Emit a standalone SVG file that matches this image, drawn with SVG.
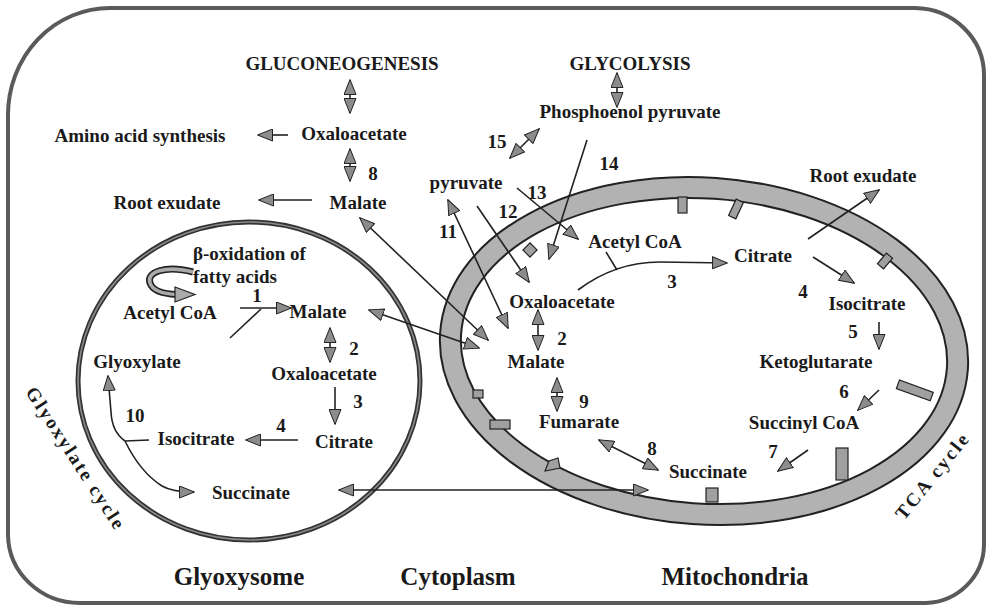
<svg xmlns="http://www.w3.org/2000/svg" width="986" height="608" viewBox="0 0 986 608">
<style>
.t{font-family:"Liberation Serif","Times New Roman",serif;font-weight:bold;font-size:19px;fill:#1a1a1a;text-anchor:middle}
.s{text-anchor:start}
.big{font-size:25px}
.c{stroke:#222;stroke-width:1.6;fill:none}
.a{marker-end:url(#ah)}
.d{marker-start:url(#ah);marker-end:url(#ah)}
.tab{fill:#a0a0a0;stroke:#222;stroke-width:1.2}
</style>
<defs>
<marker id="ah" viewBox="0 0 16 13" refX="15" refY="6.5" markerWidth="16" markerHeight="13" markerUnits="userSpaceOnUse" orient="auto-start-reverse">
<path d="M0.5,0.5 L15.5,6.5 L0.5,12.5 z" fill="#8c8c8c" stroke="#222" stroke-width="1"/>
</marker>
</defs>
<rect width="986" height="608" fill="#ffffff"/>
<g id="frame">
<path d="M8,115 A102,107 0 0 1 110,8 L915,8 A70,67 0 0 1 984,75 L984,545 A60,59 0 0 1 926,603 L80,603 A72,69 0 0 1 8,535 Z" fill="none" stroke="#5a5a5a" stroke-width="4"/>
</g>
<g id="glyoxysome">
<ellipse cx="249" cy="381" rx="171" ry="159" fill="none" stroke="#333" stroke-width="5"/>
<ellipse cx="249" cy="381" rx="171" ry="159" fill="none" stroke="#8a8a8a" stroke-width="1.6"/>
</g>
<g id="mitochondria">
<g transform="rotate(4 704 351)">
<ellipse cx="704" cy="351" rx="254" ry="163" fill="none" stroke="#222" stroke-width="23"/>
<ellipse cx="704" cy="351" rx="254" ry="163" fill="none" stroke="#b2b2b2" stroke-width="19"/>
</g>
<rect class="tab" x="678" y="197" width="9" height="16"/>
<rect class="tab" x="732" y="200" width="8" height="18" transform="rotate(25 736 209)"/>
<rect class="tab" x="881" y="254" width="8" height="14" transform="rotate(40 885 261)"/>
<rect class="tab" x="897" y="386" width="36" height="9" transform="rotate(20 915 390)"/>
<rect class="tab" x="836" y="448" width="12" height="32"/>
<rect class="tab" x="706" y="488" width="12" height="14"/>
<polygon class="tab" points="545,471 549,461 558,458 560,468"/>
<rect class="tab" x="490" y="420" width="20" height="9"/>
<rect class="tab" x="473" y="390" width="10" height="8"/>
<rect class="tab" x="525" y="245" width="10" height="10" transform="rotate(45 530 250)"/>
</g>
<g id="connectors">
<line class="c d" x1="350" y1="80" x2="350" y2="113"/>
<line class="c d" x1="350" y1="149" x2="350" y2="181"/>
<line class="c a" x1="288" y1="135" x2="258" y2="135"/>
<line class="c a" x1="312" y1="200" x2="259" y2="200"/>
<line class="c d" x1="617" y1="73" x2="617" y2="107"/>
<line class="c d" x1="510" y1="158" x2="539" y2="129"/>
<line class="c a" x1="587" y1="140" x2="549" y2="259"/>
<line class="c a" x1="517" y1="188" x2="578" y2="239"/>
<line class="c a" x1="477" y1="206" x2="529" y2="282"/>
<line class="c d" x1="448" y1="200" x2="508" y2="328"/>
<line class="c d" x1="360" y1="218" x2="488" y2="340"/>
<line class="c d" x1="369" y1="310" x2="479" y2="348"/>
<path class="c a" d="M578,290 Q615,262 660,262 L727,263"/>
<line class="c" x1="606" y1="252" x2="617" y2="270"/>
<line class="c a" x1="808" y1="239" x2="879" y2="190"/>
<line class="c a" x1="813" y1="257" x2="854" y2="283"/>
<line class="c a" x1="879" y1="322" x2="879" y2="349"/>
<line class="c a" x1="879" y1="390" x2="858" y2="410"/>
<line class="c a" x1="808" y1="450" x2="778" y2="471"/>
<line class="c d" x1="599" y1="440" x2="658" y2="470"/>
<line class="c d" x1="557" y1="378" x2="557" y2="411"/>
<line class="c d" x1="538" y1="310" x2="538" y2="350"/>
<line class="c a" x1="240" y1="308" x2="291" y2="308"/>
<line class="c" x1="230" y1="338" x2="261" y2="309"/>
<line class="c d" x1="330" y1="328" x2="330" y2="362"/>
<line class="c a" x1="335" y1="387" x2="335" y2="424"/>
<line class="c a" x1="298" y1="440" x2="246" y2="440"/>
<path class="c" d="M149,440 L125,441"/>
<path class="c a" d="M125,441 Q112,432 111,412 L108,376"/>
<path class="c a" d="M125,441 Q140,472 162,486 Q172,492 194,492"/>
<line class="c d" x1="339" y1="490" x2="648" y2="490"/>
<path d="M193,272 C165,265 146,272 150,283 C153,292 165,294 177,294.5" fill="none" stroke="#222" stroke-width="7"/>
<path d="M193,272 C165,265 146,272 150,283 C153,292 165,294 177,294.5" fill="none" stroke="#aaa" stroke-width="3.6"/>
<polygon points="175,287 195,294.5 175,302" fill="#aaa" stroke="#222" stroke-width="1.2"/>
</g>
<g id="n-gluconeogenesis"><text class="t" x="342" y="70">GLUCONEOGENESIS</text></g>
<g id="n-glycolysis"><text class="t" x="630" y="70">GLYCOLYSIS</text></g>
<g id="n-amino"><text class="t" x="140" y="142">Amino acid synthesis</text></g>
<g id="n-oaa-cyto"><text class="t" x="354" y="140">Oxaloacetate</text></g>
<g id="n-root-left"><text class="t" x="167" y="209">Root exudate</text></g>
<g id="n-malate-cyto"><text class="t" x="358" y="209">Malate</text></g>
<g id="n-pep"><text class="t" x="630" y="118">Phosphoenol pyruvate</text></g>
<g id="n-pyruvate"><text class="t" x="466" y="189">pyruvate</text></g>
<g id="n-root-right"><text class="t" x="863" y="182">Root exudate</text></g>
<g id="n-acetyl-mito"><text class="t" x="635" y="248">Acetyl CoA</text></g>
<g id="n-citrate-mito"><text class="t" x="763" y="262">Citrate</text></g>
<g id="n-isocitrate-mito"><text class="t" x="867" y="310">Isocitrate</text></g>
<g id="n-keto"><text class="t" x="816" y="368">Ketoglutarate</text></g>
<g id="n-succcoa"><text class="t" x="804" y="429">Succinyl CoA</text></g>
<g id="n-succinate-mito"><text class="t" x="708" y="478">Succinate</text></g>
<g id="n-fumarate"><text class="t" x="579" y="428">Fumarate</text></g>
<g id="n-malate-mito"><text class="t" x="536" y="368">Malate</text></g>
<g id="n-oaa-mito"><text class="t" x="562" y="308">Oxaloacetate</text></g>
<g id="n-beta"><text class="t s" x="193" y="260">β-oxidation of</text><text class="t s" x="193" y="283">fatty acids</text></g>
<g id="n-acetyl-glyox"><text class="t" x="170" y="319">Acetyl CoA</text></g>
<g id="n-malate-glyox"><text class="t" x="318" y="318">Malate</text></g>
<g id="n-oaa-glyox"><text class="t" x="324" y="380">Oxaloacetate</text></g>
<g id="n-citrate-glyox"><text class="t" x="344" y="448">Citrate</text></g>
<g id="n-isocitrate-glyox"><text class="t" x="196" y="445">Isocitrate</text></g>
<g id="n-glyoxylate"><text class="t" x="137" y="368">Glyoxylate</text></g>
<g id="n-succinate-glyox"><text class="t" x="251" y="499">Succinate</text></g>
<g id="labels">
<text class="t" x="373" y="180">8</text>
<text class="t" x="497" y="148">15</text>
<text class="t" x="609" y="170">14</text>
<text class="t" x="537" y="199">13</text>
<text class="t" x="508" y="218">12</text>
<text class="t" x="448" y="238">11</text>
<text class="t" x="672" y="288">3</text>
<text class="t" x="803" y="298">4</text>
<text class="t" x="853" y="338">5</text>
<text class="t" x="844" y="398">6</text>
<text class="t" x="773" y="458">7</text>
<text class="t" x="652" y="455">8</text>
<text class="t" x="584" y="408">9</text>
<text class="t" x="562" y="345">2</text>
<text class="t" x="257" y="302">1</text>
<text class="t" x="354" y="355">2</text>
<text class="t" x="358" y="408">3</text>
<text class="t" x="281" y="432">4</text>
<text class="t" x="135" y="422">10</text>
<text class="t s" transform="translate(25 392) rotate(57)" textLength="165" lengthAdjust="spacing">Glyoxylate cycle</text>
<text class="t s" transform="translate(904 521) rotate(-51)" textLength="104" lengthAdjust="spacing">TCA cycle</text>
<text class="t big" x="239" y="585">Glyoxysome</text>
<text class="t big" x="458" y="585">Cytoplasm</text>
<text class="t big" x="735" y="585">Mitochondria</text>
</g>
</svg>
